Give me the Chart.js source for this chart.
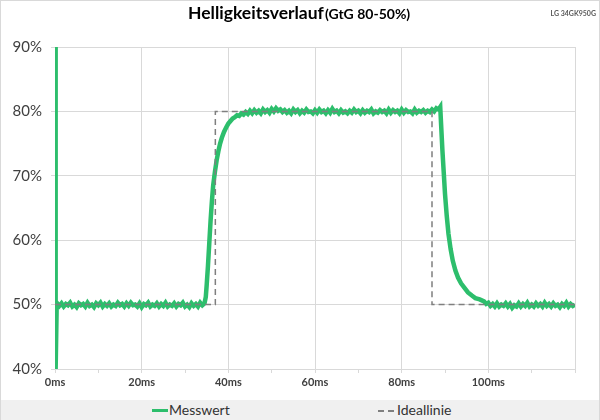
<!DOCTYPE html>
<html>
<head>
<meta charset="utf-8">
<script src="https://cdn.jsdelivr.net/npm/chart.js@4.4.0/dist/chart.umd.min.js"></script>
<style>
  body { margin: 0; background: #fff; font-family: Lato, "Open Sans", sans-serif; }
  #wrap { position: relative; width: 600px; height: 420px; overflow: hidden; }
  #c { position: absolute; left: 0; top: 0; }
  #frame { position: absolute; left: 0; top: 0; width: 598px; height: 419px; border: 1px solid #d9d9d9; border-bottom: none; pointer-events: none; }
  #title { position: absolute; left: 188px; top: 2px; font-weight: bold; color: #000; white-space: nowrap; font-size: 17.5px; }
  #title span { font-size: 14px; margin-left: 1px; }
  #model { position: absolute; right: 4px; top: 9px; font-size: 7px; font-weight: bold; color: #595959; }
  #legend { position: absolute; left: 0; top: 400px; width: 600px; height: 20px; background: #f0f0f0; }
  .txt { position: absolute; top: 0; line-height: 20px; font-size: 14px; color: #333; }
  .sw { position: absolute; top: 9px; height: 3px; }
</style>
</head>
<body>
<div id="wrap">
  <canvas id="c" width="600" height="400"></canvas>
  <div id="title">Helligkeitsverlauf<span>(GtG 80-50%)</span></div>
  <div id="model">LG 34GK950G</div>
  <div id="legend">
    <div class="sw" style="left:152px;width:16px;background:#2dbe6c;"></div>
    <div class="txt" style="left:169px;">Messwert</div>
    <div class="sw" style="left:378px;width:17px;height:1.5px;top:10px;background:repeating-linear-gradient(to right,#7f7f7f 0 6px,transparent 6px 10px);"></div>
    <div class="txt" style="left:397px;">Ideallinie</div>
  </div>
  <div id="frame"></div>
</div>
<script>
// Messwert: Zeit (ms) und Helligkeit (%)
const times = [
  0, 0.15, 0.4,
  1, 1.5, 2, 2.5, 3, 3.5, 4, 4.5, 5, 5.5,
  6, 6.5, 7, 7.5, 8, 8.5, 9, 9.5, 10, 10.5,
  11, 11.5, 12, 12.5, 13, 13.5, 14, 14.5, 15, 15.5,
  16, 16.5, 17, 17.5, 18, 18.5, 19, 19.5, 20, 20.5,
  21, 21.5, 22, 22.5, 23, 23.5, 24, 24.5, 25, 25.5,
  26, 26.5, 27, 27.5, 28, 28.5, 29, 29.5, 30, 30.5,
  31, 31.5, 32, 32.5, 33, 33.5, 34, 34.5,
  34.8, 35.0, 35.3, 35.6, 35.9, 36.2, 36.5, 36.9, 37.3, 37.7,
  38.1, 38.5, 39.0, 39.5, 40.0, 40.5, 41.0, 41.5, 42.0, 42.5,
  43.0, 43.5, 44.0, 44.5, 45.0, 45.5,
  46, 46.5, 47, 47.5, 48, 48.5, 49, 49.5, 50, 50.5,
  51, 51.5, 52, 52.5, 53, 53.5, 54, 54.5, 55, 55.5,
  56, 56.5, 57, 57.5, 58, 58.5, 59, 59.5, 60, 60.5,
  61, 61.5, 62, 62.5, 63, 63.5, 64, 64.5, 65, 65.5,
  66, 66.5, 67, 67.5, 68, 68.5, 69, 69.5, 70, 70.5,
  71, 71.5, 72, 72.5, 73, 73.5, 74, 74.5, 75, 75.5,
  76, 76.5, 77, 77.5, 78, 78.5, 79, 79.5, 80, 80.5,
  81, 81.5, 82, 82.5, 83, 83.5, 84, 84.5, 85, 85.5,
  86, 86.5, 87, 87.5, 88, 88.5,
  88.9, 89.1, 89.4, 89.7, 90.0, 90.4, 90.8, 91.3, 91.8, 92.4,
  93.0, 93.7, 94.5, 95.3, 96.2, 97.0, 98.0, 99.0,
  99.5, 100, 100.5, 101, 101.5, 102, 102.5, 103, 103.5, 104,
  104.5, 105, 105.5, 106, 106.5, 107, 107.5, 108, 108.5, 109,
  109.5, 110, 110.5, 111, 111.5, 112, 112.5, 113, 113.5, 114,
  114.5, 115, 115.5, 116, 116.5, 117, 117.5, 118, 118.5, 119,
  119.5, 120
];
const messwert = [
  90, 40, 50.3,
  49.8, 50.2, 49.7, 50.1, 49.9, 50.3, 49.7, 50.0, 49.6, 50.2,
  49.9, 50.1, 49.7, 50.3, 49.8, 50.0, 49.6, 50.2, 49.9, 50.3,
  49.7, 50.1, 49.8, 50.2, 49.7, 50.0, 49.8, 50.3, 49.9, 50.1,
  49.7, 50.2, 49.8, 50.3, 49.9, 50.0, 49.7, 50.2, 49.6, 50.1,
  49.9, 50.3, 49.7, 50.0, 49.8, 50.2, 49.7, 50.1, 49.8, 50.3,
  49.7, 50.0, 49.8, 50.2, 49.7, 50.1, 49.9, 50.3, 49.7, 50.0,
  49.6, 50.2, 49.8, 50.1, 49.7, 50.3, 49.9, 50.2,
  51.2, 53.0, 56.0, 59.5, 63.0, 66.0, 68.5, 70.6, 72.4, 73.8,
  75.0, 75.9, 76.8, 77.5, 78.1, 78.5, 78.9, 79.1, 79.4, 79.3,
  79.7, 79.5, 79.9, 79.6, 80.1, 79.7,
  80.2, 79.8, 80.1, 79.7, 80.3, 79.9, 80.2, 79.8, 80.4, 80.0,
  80.5, 80.1, 80.3, 79.9, 80.2, 79.8, 80.1, 79.7, 80.3, 79.9,
  80.2, 79.7, 80.1, 79.8, 80.3, 79.9, 80.0, 79.7, 80.2, 79.8,
  80.3, 79.9, 80.1, 79.7, 80.2, 79.8, 80.4, 79.9, 80.1, 79.7,
  80.2, 79.8, 80.0, 79.7, 80.1, 79.8, 80.3, 79.9, 80.1, 79.7,
  80.2, 79.8, 80.1, 79.9, 80.3, 79.7, 80.0, 79.8, 80.2, 79.9,
  80.1, 79.7, 80.3, 79.8, 80.2, 79.9, 80.1, 79.7, 80.3, 79.8,
  80.2, 79.9, 80.0, 79.7, 80.3, 79.8, 80.1, 79.9, 80.2, 79.8,
  80.1, 79.9, 80.3, 80.0, 80.5, 80.3,
  80.7, 78.0, 74.0, 70.6, 67.2, 63.8, 61.0, 58.6, 56.8, 55.3,
  54.2, 53.3, 52.6, 51.9, 51.4, 51.0, 50.8, 50.5,
  50.1, 50.3, 49.8, 50.1, 49.7, 50.2, 49.7, 50.0, 49.8, 50.2,
  49.7, 50.1, 49.5, 49.9, 49.7, 50.2, 49.7, 50.1, 49.8, 50.3,
  49.7, 50.0, 49.7, 50.2, 49.8, 50.1, 49.7, 50.3, 49.8, 50.1,
  49.7, 50.2, 49.8, 50.0, 49.6, 50.1, 49.8, 50.3, 49.7, 50.1,
  49.8, 50.0
];

// Ideallinie
const idealTimes = [0, 37, 37, 87, 87, 120];
const idealWerte = [50, 50, 80, 80, 50, 50];

const yTicks = [40, 50, 60, 70, 80, 90];

const GREEN = '#2dbe6c';
const GRID = '#d9d9d9';
const TEXT = '#404040';

const chart = new Chart(document.getElementById('c'), {
  type: 'line',
  data: {
    datasets: [
      {
        label: 'Messwert',
        data: times.map((t, i) => ({ x: t, y: messwert[i] })),
        borderColor: GREEN,
        borderWidth: 4.5,
        pointRadius: 0,
        tension: 0,
        order: 2
      },
      {
        label: 'Ideallinie',
        data: idealTimes.map((t, i) => ({ x: t, y: idealWerte[i] })),
        borderColor: '#7f7f7f',
        borderWidth: 1.5,
        borderDash: [6, 4],
        pointRadius: 0,
        tension: 0,
        order: 1
      }
    ]
  },
  options: {
    responsive: false,
    animation: false,
    layout: { padding: { top: 47, right: 25, left: 0, bottom: 0 } },
    plugins: {
      legend: { display: false },
      tooltip: { enabled: false }
    },
    scales: {
      x: {
        type: 'linear',
        min: 0,
        max: 120,
        ticks: {
          stepSize: 10,
          autoSkip: false,
          maxRotation: 0,
          padding: 3,
          color: TEXT,
          font: { family: 'Lato', size: 11, weight: 'bold' },
          callback: v => (v % 20 === 0 && v < 120) ? v + 'ms' : ''
        },
        grid: {
          color: ctx => (ctx.tick && ctx.tick.value % 20 === 0) ? GRID : 'rgba(0,0,0,0)',
          tickColor: GRID,
          tickLength: 4
        },
        border: { color: GRID },
        afterFit: a => { a.height = 31; }
      },
      y: {
        min: 40,
        max: 90,
        afterBuildTicks: a => { a.ticks = yTicks.map(v => ({ value: v })); },
        ticks: {
          padding: 9,
          color: TEXT,
          font: { family: 'Lato', size: 15 },
          callback: v => v + '%'
        },
        grid: { color: GRID, tickColor: GRID, tickLength: 4 },
        border: { color: GRID },
        afterFit: a => { a.width = 55; }
      }
    }
  }
});
</script>
</body>
</html>
